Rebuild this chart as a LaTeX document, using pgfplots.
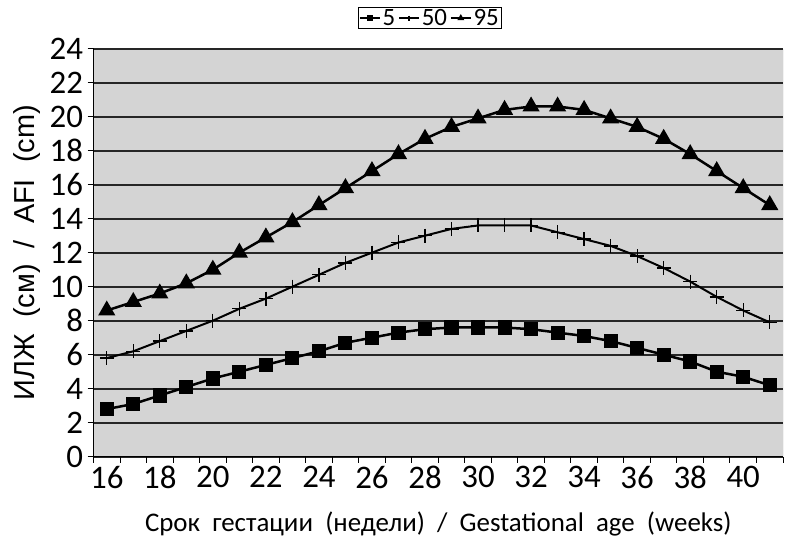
\documentclass[border=0pt]{standalone}
\usepackage{pgfplots}
\pgfplotsset{compat=1.18}
\usepackage{fontspec}
\setmainfont{Carlito}
\newfontfamily\arialf{Liberation Sans}
\pgfplotstableread{
w p5 p50 p95
16 2.8 5.8 8.6
17 3.1 6.2 9.1
18 3.6 6.8 9.6
19 4.1 7.4 10.2
20 4.6 8.0 11.0
21 5.0 8.7 12.0
22 5.4 9.3 12.9
23 5.8 10.0 13.8
24 6.2 10.7 14.8
25 6.7 11.4 15.8
26 7.0 12.0 16.8
27 7.3 12.6 17.8
28 7.5 13.0 18.7
29 7.6 13.4 19.4
30 7.6 13.6 19.9
31 7.6 13.6 20.4
32 7.5 13.6 20.6
33 7.3 13.2 20.6
34 7.1 12.8 20.4
35 6.8 12.4 19.9
36 6.4 11.8 19.4
37 6.0 11.1 18.7
38 5.6 10.3 17.8
39 5.0 9.4 16.8
40 4.7 8.6 15.8
41 4.2 7.9 14.8
}\afi
\begin{document}
\begin{tikzpicture}[x=1bp,y=1bp]
\path[use as bounding box] (0,0) rectangle (800,550);
\begin{axis}[
  at={(93.5bp,93.3bp)}, anchor=south west,
  scale only axis, width=689.5bp, height=408bp,
  xmin=15.5, xmax=41.5, ymin=0, ymax=24,
  axis x line*=bottom, axis y line*=left,
  axis line style={-, line width=1.2bp, black},
  axis background/.style={fill=black!17},
  xtick={16,18,...,40}, major x tick style={draw=none},
  minor xtick={15.5,16.5,...,41.5},
  minor x tick style={line width=1bp, black},
  minor tick length=6bp,
  ytick={0,2,...,24},
  major tick length=6bp,
  tick align=outside,
  y tick style={line width=1bp, black},
  ymajorgrids,
  grid style={line width=2bp, black!85},
  /pgf/number format/assume math mode=true,
  tick label style={font=\fontsize{33}{36}\selectfont},
  xticklabel style={yshift=0bp},
  yticklabel style={xshift=-1bp},
  xlabel={Срок\ \ гестации\ \ (недели)\ \ /\ \ Gestational\ \ age\ \ (weeks)},
  xlabel style={font=\fontsize{27}{30}\selectfont, yshift=-16bp},
  ylabel={\arialf ИЛЖ\ \ (см)\ \ /\ \ AFI\ \ (cm)},
  ylabel style={font=\fontsize{29}{32}\selectfont, yshift=2bp},
  legend columns=3,
  legend style={at={(0.488,1.075)}, anchor=center, draw=black, line width=1bp,
    font=\fontsize{25}{26}\selectfont, inner sep=0bp, inner xsep=1bp,
    /tikz/every even column/.append style={column sep=1bp}},
  legend image post style={mark size=2.5bp, line width=1.5bp},
  legend image code/.code={\draw[mark repeat=2,mark phase=2,#1] plot coordinates {(0bp,0bp) (10bp,0bp) (20bp,0bp)};},
]
\addplot[black, line width=2.5bp, mark=square*, mark size=5.8bp, mark options={solid}] table[x=w,y=p5] {\afi};
\addlegendentry{5}
\addplot[black, line width=2bp, mark=+, mark size=7bp, mark options={line width=1.3bp}] table[x=w,y=p50] {\afi};
\addlegendentry{50}
\addplot[black, line width=2.5bp, mark=triangle*, mark size=7.5bp] table[x=w,y=p95] {\afi};
\addlegendentry{95}
\draw[black!40, line width=1bp] (rel axis cs:1,0) -- (rel axis cs:1,1);
\end{axis}
\end{tikzpicture}
\end{document}
